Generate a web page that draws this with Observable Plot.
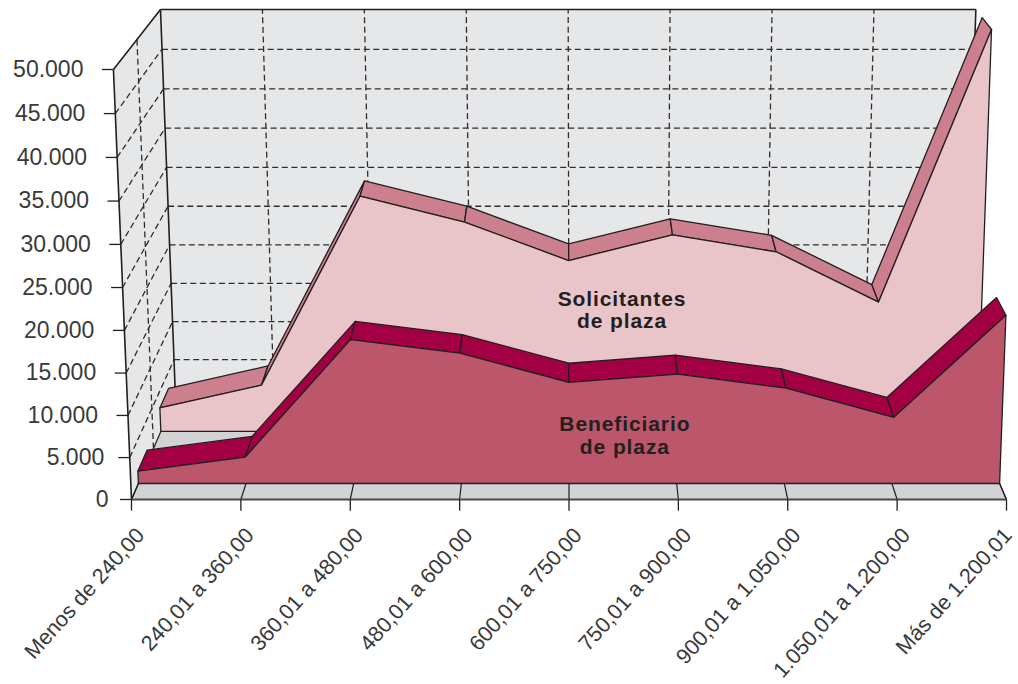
<!DOCTYPE html>
<html>
<head>
<meta charset="utf-8">
<script src="https://cdn.jsdelivr.net/npm/d3@7"></script>
<script src="https://cdn.jsdelivr.net/npm/@observablehq/plot@0.6"></script>
<style>
html,body{margin:0;padding:0;background:#fff}
svg{display:block}
.serie-label text,.serie-label tspan{letter-spacing:0.9px}
</style>
</head>
<body>
<div id="chart"></div>
<script>
// ---- data ----
const categories = ["Menos de 240,00","240,01 a 360,00","360,01 a 480,00","480,01 a 600,00","600,01 a 750,00","750,01 a 900,00","900,01 a 1.050,00","1.050,01 a 1.200,00","Más de 1.200,01"];
const beneficiarios = [1500,3200,17300,15700,12200,13200,11500,8000,20200];
const solicitantes  = [3000,5900,29600,26400,21600,24800,22700,16400,50000];
const yTicks = [0,5000,10000,15000,20000,25000,30000,35000,40000,45000,50000];
const yLabels = ["0","5.000","10.000","15.000","20.000","25.000","30.000","35.000","40.000","45.000","50.000"];

// ---- 3D view: position (category, value, depth 0..1) in scale units ----
const last = categories.length - 1, vMax = 50000;
const lerp = (a,b,t) => a + (b-a)*t;
function place(i, value, d) {
  const v = value/vMax, t = v*(1+0.029*v)/1.029;
  const inset = lerp(lerp(0,0.402,d), lerp(-0.165,0.265,d), t);
  const bottom = d*11860, top = vMax + d*6977;
  return {x: inset + (last-2*inset-0.015*t)*(i/last), y: lerp(bottom, top, t)};
}
const poly = (id, pts) => [...pts, pts[0]].map(p => ({...p, id}));
const Sd = [0.667,0.865], Bd = [0.157,0.365];

// build helpers
function frontFace(vals,d){
  const pts = vals.map((v,i)=>place(i,v,d));
  return poly(0,[place(0,0,d),...pts,place(last,0,d)]);
}
function topFaces(vals,[d1,d2]){
  const out=[];
  for(let i=0;i<last;i++) out.push(...poly(i,[place(i,vals[i],d1),place(i+1,vals[i+1],d1),place(i+1,vals[i+1],d2),place(i,vals[i],d2)]));
  return out;
}
const ink="#231f20";
const face = (data,fill,sw=1.3)=>Plot.line(data,{x:"x",y:"y",z:"id",fill,stroke:ink,strokeWidth:sw,curve:"linear"});
const segs = (data,opts)=>Plot.link(data,{x1:d=>d[0].x,y1:d=>d[0].y,x2:d=>d[1].x,y2:d=>d[1].y,stroke:ink,...opts});
const dash = {strokeDasharray:"6 3.6",strokeWidth:1.3,stroke:"#2e2e2e"};

const wallBack = poly(0,[place(0,0,1),place(last,0,1),place(last,vMax,1),place(0,vMax,1)]);
const wallLeft = poly(0,[place(0,0,0),place(0,vMax,0),place(0,vMax,1),place(0,0,1)]);
const floor = poly(0,[place(0,0,0),place(last,0,0),place(last,0,1),place(0,0,1)]);

const gridBack = yTicks.slice(1,-1).map(v=>[place(0,v,1),place(last,v,1)]);
const gridBackV = categories.slice(1,-1).map((c,k)=>[place(k+1,0,1),place(k+1,vMax,1)]);
const gridLeft = yTicks.slice(1,-1).map(v=>[place(0,v,0),place(0,v,1)]);
const gridLeftV = [[place(0,0,0.5),place(0,vMax,0.5)]];
const floorTicks = categories.map((c,i)=>[place(i,0,0),place(i,0,Bd[0])]);
const xTickRows = categories.map((c,i)=>({...place(i,0,0),c,i}));
const yTickRows = yTicks.map((v,k)=>({...place(0,v,0),v,label:yLabels[k]}));

const labelFont = {fontSize:21,fontWeight:"bold",fill:ink,fontFamily:"Liberation Sans",lineHeight:1.07,className:"serie-label"};

const chart = Plot.plot({
  width:1018, height:684,
  marginLeft:131, marginRight:12, marginTop:69, marginBottom:185,
  x:{domain:[0,last],axis:null},
  y:{domain:[0,vMax],axis:null},
  style:{background:"#fff",overflow:"visible"},
  marks:[
    Plot.line(wallBack,{x:"x",y:"y",z:"id",fill:"#e6e7e9",stroke:"none"}),
    Plot.line(wallLeft,{x:"x",y:"y",z:"id",fill:"#e6e7e9",stroke:"none"}),
    segs(gridBack,dash), segs(gridBackV,dash), segs(gridLeft,dash), segs(gridLeftV,dash),
    // frame of the walls
    segs([[place(0,vMax,1),place(last,vMax,1)],[place(last,vMax,1),place(last,0,1)],[place(0,vMax,1),place(0,0,1)],[place(0,vMax,0),place(0,vMax,1)],[place(0,vMax,0),place(0,0,0)]],{strokeWidth:1.6}),
    face(floor,"#d1d3d4",1.2),
    face(topFaces(solicitantes,Sd),"#cc7f8c"),
    face(frontFace(solicitantes,Sd[0]),"#e9c4c9"),
    face(topFaces(beneficiarios,Bd),"#a30043"),
    face(frontFace(beneficiarios,Bd[0]),"#bc566b"),
    segs(floorTicks,{strokeWidth:1.2}),
    // front edge of floor
    segs([[place(0,0,0),place(last,0,0)]],{strokeWidth:2,stroke:"#4a4a4a"}),
    // axes
    Plot.link(xTickRows,{x1:"x",x2:"x",y1:"y",y2:d=>d.y-1300,stroke:ink,strokeWidth:1.3}),
    Plot.link(yTickRows,{x1:"x",y1:"y",x2:d=>d.x-0.105,y2:"y",stroke:ink,strokeWidth:1.3}),
    Plot.text(yTickRows,{x:d=>d.x+(d.v===0?0.064:d.v===5000?0.041:0),y:"y",text:"label",textAnchor:"end",dx:-30,dy:0,fontSize:23,fill:"#3a3a3a",fontFamily:"Liberation Sans"}),
    Plot.text(xTickRows,{x:d=>d.i===last?d.x-0.07:d.x,y:"y",text:"c",textAnchor:"end",rotate:-48,dx:9,dy:32,fontSize:21.6,fill:"#3a3a3a",fontFamily:"Liberation Sans"}),
    // series labels
    Plot.text([{...place(4.49,20400,0.2),t:"Solicitantes\nde plaza"}],{x:"x",y:"y",text:"t",...labelFont}),
    Plot.text([{...place(4.52,5350,0.2),t:"Beneficiario\nde plaza"}],{x:"x",y:"y",text:"t",...labelFont})
  ]
});
document.getElementById("chart").appendChild(chart);
</script>
</body>
</html>
